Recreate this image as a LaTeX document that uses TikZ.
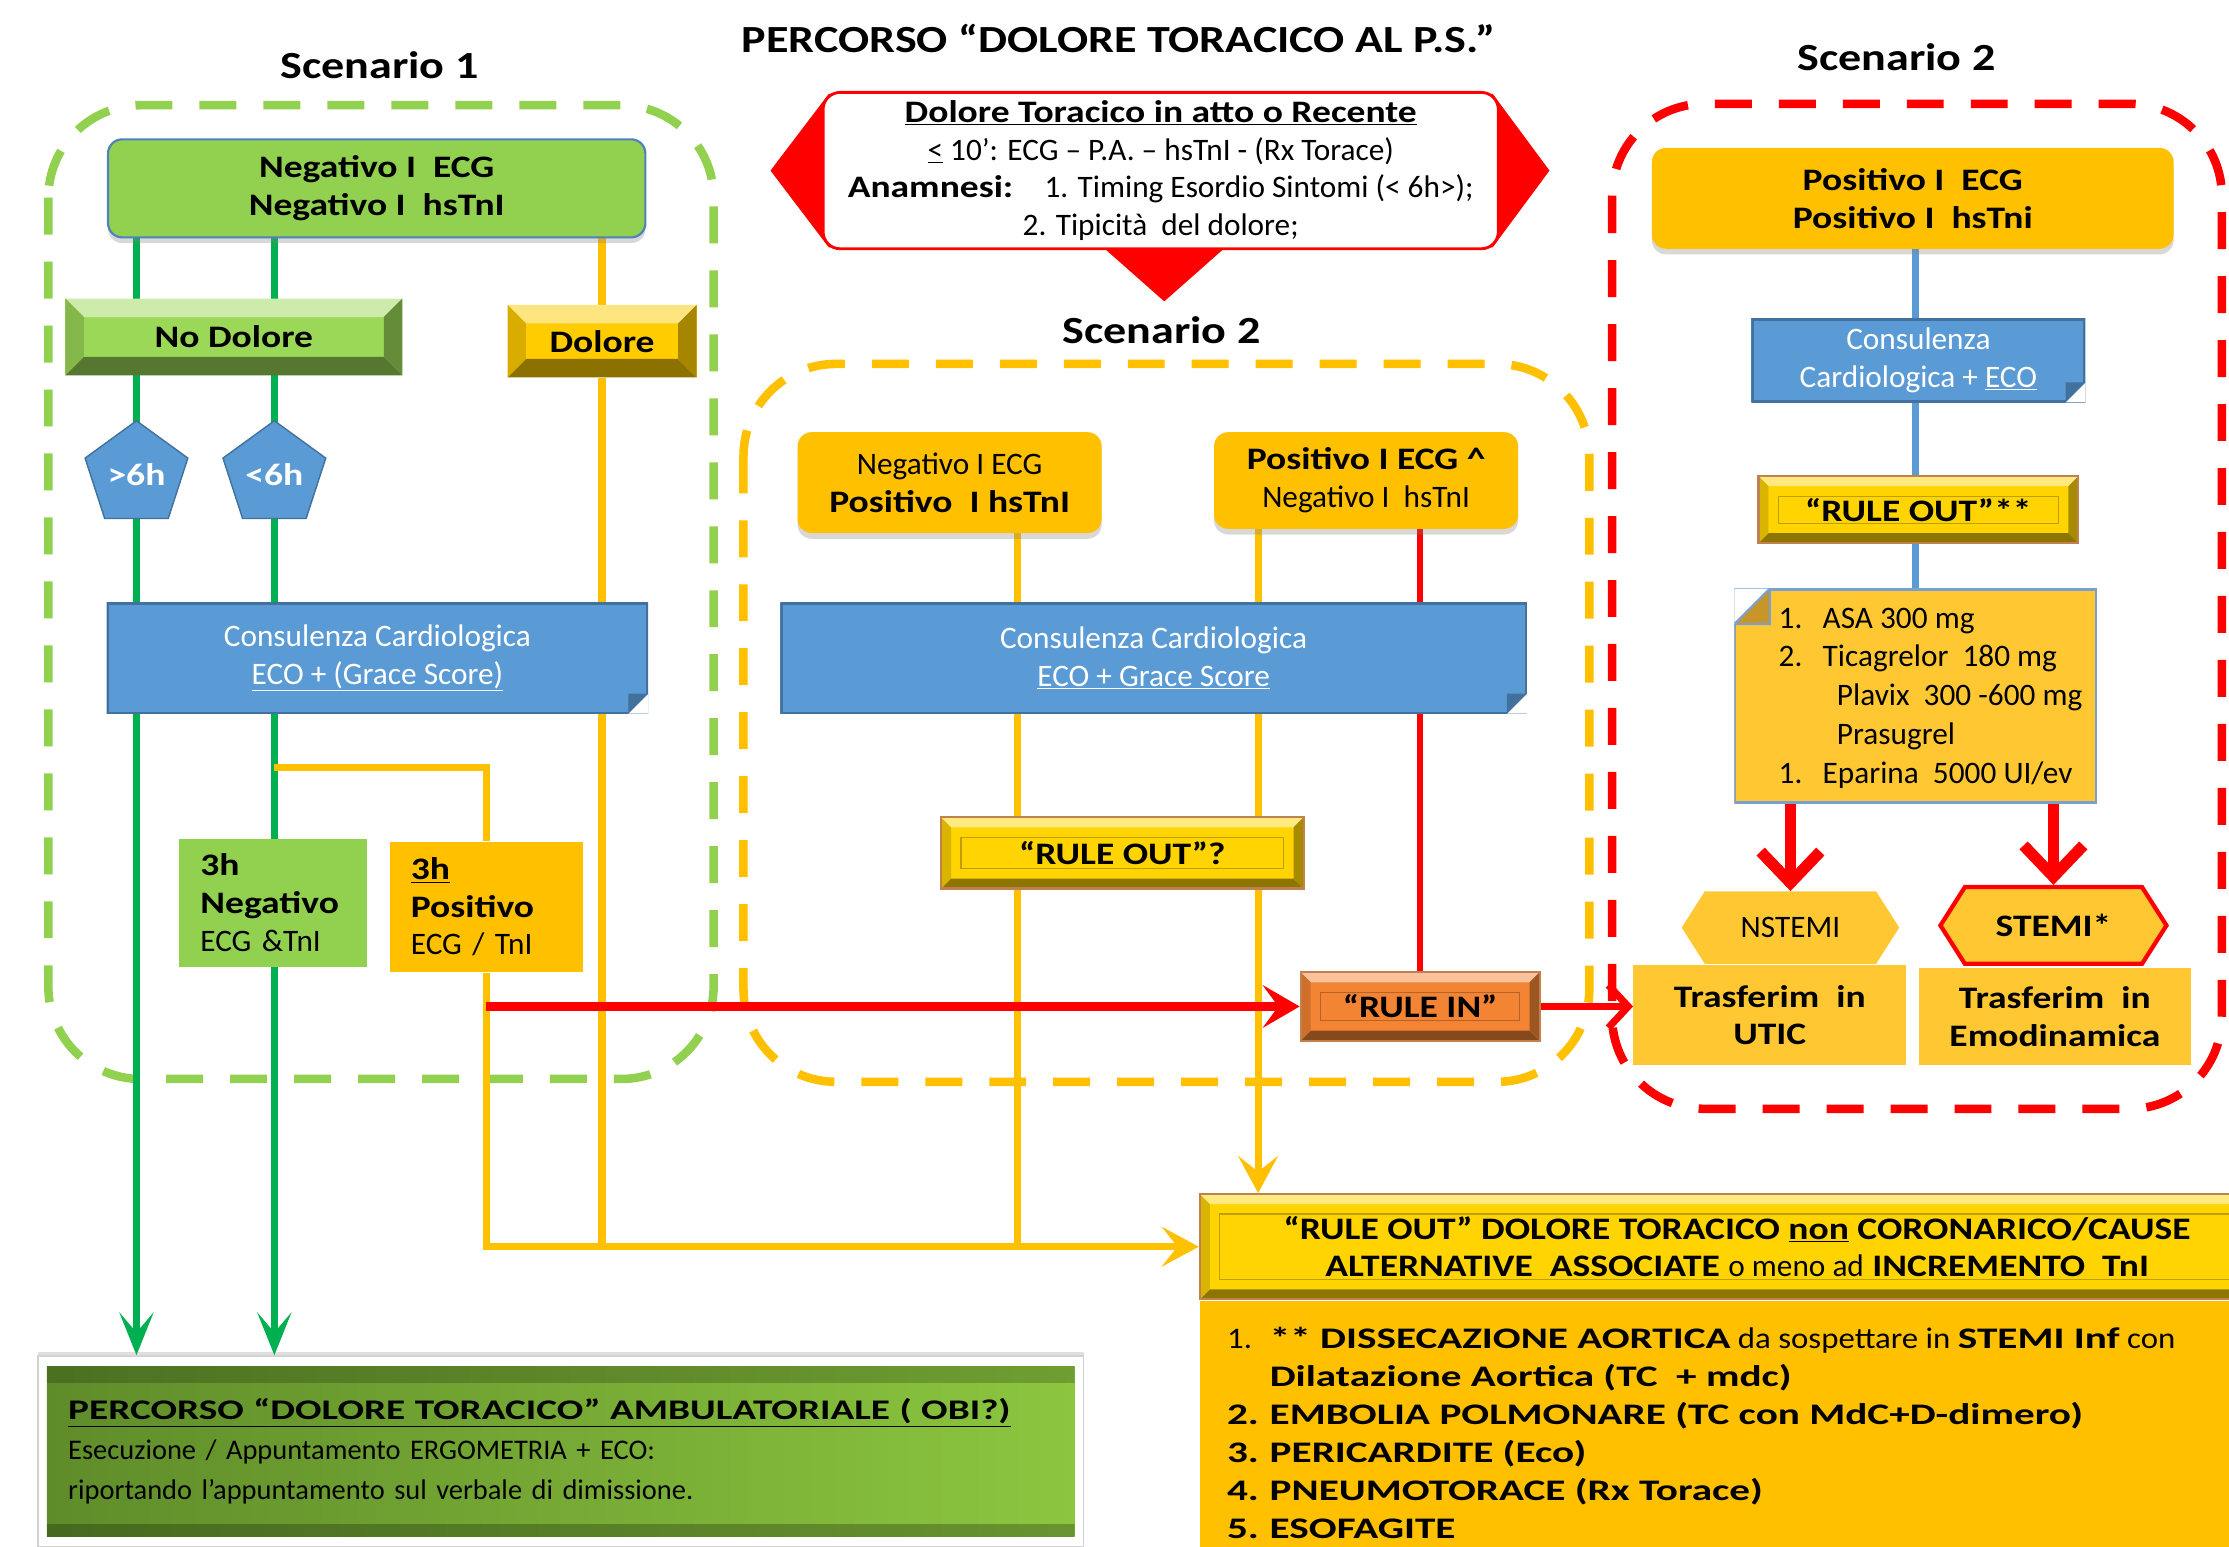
\documentclass[tikz,border=0pt]{standalone}
\usepackage{fontspec}
\setmainfont{Carlito}[BoldFeatures={FakeStretch=1.2}]
\newfontfamily\wide{Carlito}[FakeStretch=1.1, BoldFeatures={FakeStretch=1.38}]
\usepackage{tikz}
\usetikzlibrary{arrows.meta,backgrounds,calc,shapes.geometric,shapes.symbols,shadows,fit}

\definecolor{grn}{RGB}{146,208,80}
\definecolor{nodol}{RGB}{155,216,88}
\definecolor{dgrn}{RGB}{0,176,80}
\definecolor{yel}{RGB}{255,192,0}
\definecolor{lyel}{RGB}{255,200,50}
\definecolor{gold}{RGB}{255,204,0}
\definecolor{btngold}{RGB}{255,212,0}
\definecolor{orng}{RGB}{242,132,52}
\definecolor{btnedge}{RGB}{192,128,80}
\definecolor{blu}{RGB}{91,155,213}
\definecolor{bluedark}{RGB}{65,113,156}
\definecolor{bordblue}{RGB}{79,129,189}
\definecolor{listedge}{RGB}{120,160,210}
\definecolor{listfold}{RGB}{200,150,40}
\definecolor{obil}{RGB}{95,140,42}
\definecolor{obir}{RGB}{140,198,63}

\newcommand\bevelfaces[2]{%
  \path (path picture bounding box.north west) coordinate (qnw)
        (path picture bounding box.north east) coordinate (qne)
        (path picture bounding box.south west) coordinate (qsw)
        (path picture bounding box.south east) coordinate (qse);
  \fill[#1!50!white] (qnw) -- (qne) -- ([xshift=-#2,yshift=-#2]qne) -- ([xshift=#2,yshift=-#2]qnw) -- cycle;
  \fill[#1!55!black] (qsw) -- (qse) -- ([xshift=-#2,yshift=#2]qse) -- ([xshift=#2,yshift=#2]qsw) -- cycle;
  \fill[#1!85!black] (qnw) -- ([xshift=#2,yshift=-#2]qnw) -- ([xshift=#2,yshift=#2]qsw) -- (qsw) -- cycle;
  \fill[#1!65!black] (qne) -- ([xshift=-#2,yshift=-#2]qne) -- ([xshift=-#2,yshift=#2]qse) -- (qse) -- cycle;
}
\newcommand\foldse{%
  \path (path picture bounding box.north west) coordinate (qnw)
        (path picture bounding box.south east) coordinate (qse);
  \draw[bluedark, line width=3pt] (qnw) rectangle (qse);
  \fill[white] (qse) -- ([yshift=14pt]qse) -- ([xshift=-14pt]qse) -- cycle;
  \fill[bluedark] ([yshift=14pt]qse) -- ([xshift=-14pt]qse) -- ([xshift=-14pt,yshift=14pt]qse) -- cycle;
}
\newcommand\foldnw{%
  \path (path picture bounding box.north west) coordinate (qnw)
        (path picture bounding box.south east) coordinate (qse);
  \draw[listedge, line width=3pt] (qnw) rectangle (qse);
  \fill[white] (qnw) -- ([xshift=25pt]qnw) -- ([yshift=-25pt]qnw) -- cycle;
  \filldraw[fill=listfold, draw=listedge, line width=1.5pt] ([xshift=25pt]qnw) -- ([yshift=-25pt]qnw) -- ([xshift=25pt,yshift=-25pt]qnw) -- cycle;
}
\newcommand\obibands{%
  \path (path picture bounding box.north west) coordinate (qnw)
        (path picture bounding box.south east) coordinate (qse);
  \fill[black, opacity=.2] (qnw) rectangle ([yshift=-12pt]qnw -| qse);
  \fill[black, opacity=.25] (qse) rectangle ([yshift=9pt]qse -| qnw);
}

\tikzset{
  txt/.style={font=\fontsize{22}{26.5}\selectfont},
  txtb/.style={font=\fontsize{22}{26.5}\selectfont\bfseries},
  ttl/.style={font=\fontsize{27}{32}\selectfont\bfseries},
  rbox/.style={rounded corners=10pt, fill=#1, align=center, txt,
    drop shadow={opacity=.3, shadow xshift=0pt, shadow yshift=-4pt}},
  bevelbox/.style 2 args={fill=#1, path picture={\bevelfaces{#1}{#2}}, align=center, txtb},
  button/.style={fill=#1, draw=btnedge, line width=1.5pt, align=center, txtb,
    path picture={\bevelfaces{#1}{7pt}
      \draw[#1!75!black, line width=.8pt] ([xshift=14pt,yshift=-14pt]qnw) rectangle ([xshift=-14pt,yshift=14pt]qse);}},
  note/.style={fill=blu, text=white, align=center, txt, path picture={\foldse}},
  listbox/.style={fill=lyel, path picture={\foldnw}},
  penta/.style={regular polygon, regular polygon sides=5, minimum size=76pt, inner sep=0pt,
    fill=blu, draw=bluedark, line width=1pt, text=white, txtb},
  hexa/.style={signal, signal to=west and east, signal pointer angle=115, inner sep=2pt, txt},
  warn/.style={rounded corners=12pt, fill=white, draw=red, line width=2pt, align=center,
    font=\fontsize{22}{26.5}\selectfont},
  obibox/.style={left color=obil, right color=obir, path picture={\obibands}},
  dashbox/.style={draw=#1, line width=6pt, dash pattern=on 26pt off 19pt, rounded corners=65pt},
  gline/.style={dgrn, line width=5pt, -{Stealth[length=30pt,width=24pt,inset=14pt]}},
  yline/.style={yel, line width=5pt},
  yarrow/.style={yline, -{Stealth[length=26pt,width=28pt,inset=11pt]}},
  bline/.style={blu, line width=5pt},
  rline/.style={red, line width=4pt},
  rarrow/.style={red, line width=6pt, -{Stealth[length=26pt,width=30pt,inset=11pt]}},
  rbarb/.style={red, line width=5pt, -{Straight Barb[length=14pt,width=30pt]}},
  bigarrow/.style={red, line width=8pt, -{Straight Barb[length=22pt,width=42pt]}},
}

\begin{document}
\begin{tikzpicture}[x=1pt,y=-1pt]
\useasboundingbox (0,0) rectangle (1568,1088);
\clip (0,0) rectangle (1568,1088);

% titles
\node[ttl] (title) at (787,27) {PERCORSO “DOLORE TORACICO AL P.S.”};
\node[ttl] (sc1) at (267,46) {Scenario 1};
\node[ttl] (sc2r) at (1334,40) {Scenario 2};
\node[ttl] (sc2m) at (817,232) {Scenario 2};

% top centre
\fill[red] (542,120) -- (583,66) -- (1050,66) -- (1090,120) -- (1050,174) -- (862,174)
  -- (819,212) -- (776,174) -- (583,174) -- cycle;
\node[warn, minimum width=475pt, minimum height=110pt] (warn) at (816.5,120)
  {\textbf{\underline{Dolore Toracico in atto o Recente}}\\
   \underline{<} 10’: ECG – P.A. – hsTnI - (Rx Torace)\\
   \textbf{Anamnesi:}\quad 1. Timing Esordio Sintomi (< 6h>);\\
   2. Tipicità\ \ del dolore;};

% scenario 1
\node[rbox=grn, draw=bordblue, line width=1.5pt, minimum width=378pt, minimum height=69pt, txtb]
  (neg) at (265,132.5) {Negativo I\ \ ECG\\Negativo I\ \ hsTnI};
\node[bevelbox={nodol}{13pt}, minimum width=237pt, minimum height=54pt] (nodol) at (164.5,237) {No Dolore};
\node[bevelbox={gold}{13pt}, minimum width=133pt, minimum height=51pt] (dol) at (423.5,240) {Dolore};
\node[penta] (gt6) at (96,334) {>6h};
\node[penta] (lt6) at (193,334) {<6h};
\node[note, minimum width=381pt, minimum height=78pt] (cons1) at (265.5,463)
  {Consulenza Cardiologica\\\underline{ECO + (Grace Score)}};
\node[fill=grn, minimum height=90pt, text width=102pt, inner xsep=15pt, align=left, txt]
  (neg3h) at (192,635) {\textbf{3h}\\\textbf{Negativo}\\ECG \&TnI};
\node[fill=yel, minimum height=92pt, text width=106pt, inner xsep=15pt, align=left, txt]
  (pos3h) at (342,638) {\textbf{\underline{3h}}\\\textbf{Positivo}\\ECG / TnI};

% scenario 2 (middle)
\node[rbox=yel, minimum width=214pt, minimum height=71pt] (n2) at (668,339.5)
  {Negativo I ECG\\\textbf{Positivo\ \ I hsTnI}};
\node[rbox=yel, minimum width=214pt, minimum height=68pt] (p2) at (961,338)
  {\textbf{Positivo I ECG \textasciicircum}\\Negativo I\ \ hsTnI};
\node[note, minimum width=525pt, minimum height=78pt] (cons2) at (811.5,463)
  {Consulenza Cardiologica\\\underline{ECO + Grace Score}};
\node[button=btngold, minimum width=255pt, minimum height=50pt] (rom) at (789.5,600) {“RULE OUT”?};
\node[button=orng, minimum width=168pt, minimum height=48pt] (rin) at (999,708) {“RULE IN”};

% scenario 2 (right)
\node[rbox=yel, minimum width=367pt, minimum height=71pt, txtb] (pos) at (1345.5,139.5)
  {Positivo I\ \ ECG\\Positivo I\ \ hsTni};
\node[note, minimum width=235pt, minimum height=59pt] (cons3) at (1349.5,253.5)
  {Consulenza\\Cardiologica + \underline{ECO}};
\node[button=btngold, minimum width=225pt, minimum height=47pt] (ror) at (1349.5,358.5) {“RULE OUT”**};
\node[listbox, minimum width=255pt, minimum height=151pt] (list) at (1347.5,489.5) {};
\node[anchor=west, align=left, inner sep=0pt, font=\fontsize{22}{27.3}\selectfont] (listtxt) at (1251,491)
  {\makebox[31pt][l]{1.}ASA 300 mg\\
   \makebox[31pt][l]{2.}Ticagrelor\ \ 180 mg\\
   \hspace*{41pt}Plavix\ \ 300 -600 mg\\
   \hspace*{41pt}Prasugrel\\
   \makebox[31pt][l]{1.}Eparina\ \ 5000 UI/ev};
\node[hexa, fill=lyel, minimum width=153pt, minimum height=51pt] (nst) at (1259.5,652.5) {NSTEMI};
\node[hexa, fill=lyel, draw=red, line width=3pt, minimum width=159pt, minimum height=54pt, txtb]
  (stemi) at (1444.5,651) {STEMI*};
\node[fill=lyel, minimum width=192pt, minimum height=70pt, align=center, txtb] (utic) at (1245,714)
  {Trasferim\ \ in\\UTIC};
\node[fill=lyel, minimum width=191pt, minimum height=68pt, align=center, txtb] (emo) at (1445.5,715)
  {Trasferim\ \ in\\Emodinamica};

% rule out (bottom)
\node[button=btngold, minimum width=756pt, minimum height=74pt] (rob) at (1222,877)
  {“RULE OUT” DOLORE TORACICO \underline{non} CORONARICO/CAUSE\\
   ALTERNATIVE\ \ ASSOCIATE \textmd{o meno ad} INCREMENTO\ \ TnI};
\node[fill=yel, minimum width=756pt, minimum height=186pt, anchor=north, inner sep=0pt] (robody) at (rob.south) {};
\node[anchor=west, align=left, inner sep=0pt, font=\fontsize{21}{26.7}\selectfont\wide] (robtxt) at (863,1008)
  {\makebox[30pt][l]{1.}\textbf{** DISSECAZIONE AORTICA} da sospettare in \textbf{STEMI Inf} con\\
   \hspace*{30pt}\textbf{Dilatazione Aortica (TC\ \ + mdc)}\\
   \makebox[30pt][l]{\textbf{2.}}\textbf{EMBOLIA POLMONARE (TC con MdC+D-dimero)}\\
   \makebox[30pt][l]{\textbf{3.}}\textbf{PERICARDITE (Eco)}\\
   \makebox[30pt][l]{\textbf{4.}}\textbf{PNEUMOTORACE (Rx Torace)}\\
   \makebox[30pt][l]{\textbf{5.}}\textbf{ESOFAGITE}};

% ambulatoriale
\node[obibox, text width=693pt, inner xsep=15pt, minimum height=120pt, align=left,
  font=\fontsize{20}{28}\selectfont] (obi) at (394.5,1021)
  {{\wide\bfseries\underline{PERCORSO “DOLORE TORACICO” AMBULATORIALE ( OBI?)}}\\
   Esecuzione / Appuntamento ERGOMETRIA + ECO:\\
   riportando l’appuntamento sul verbale di dimissione.};

\begin{scope}[on background layer]
\fill[white] (0,0) rectangle (1568,1088);
\draw[dashbox=grn] (34,74) rectangle (502,759);
\draw[dashbox=yel] (523,256) rectangle (1118,761);
\draw[dashbox=red] (1134,73) rectangle (1563,780);
\node[fit=(obi), inner xsep=6pt, inner ysep=7pt, fill=white, draw=gray!35, line width=1pt,
  drop shadow={opacity=.25, shadow xshift=0pt, shadow yshift=3pt}] (obif) {};
\end{scope}

% connectors
\coordinate (xa) at (716,0);
\coordinate (xb) at (885,0);
\begin{scope}[on background layer]
\draw[gline] (gt6 |- neg.south) -- (gt6 |- obif.north);
\draw[gline] (lt6 |- neg.south) -- (lt6 |- obif.north);
\draw[yline] (dol |- neg.south) -- (dol.north);
\draw[yline] (dol.south) -- (dol |- rob.west);
\draw[yline] (lt6 |- 0,540) -| (pos3h.north);
\draw[yarrow] (pos3h.south) |- (rob.west);
\draw[yline] (xa |- n2.south) -- (xa |- rob.west);
\draw[yarrow] (xb |- p2.south) -- (xb |- rob.north);
\draw[rline] (rin |- p2.south) -- (rin.north);
\draw[rarrow] (pos3h |- rin.west) -- (rin.west);
\draw[rbarb] (rin.east) -- (rin.east -| utic.west);
\draw[bline] (list |- pos.south) -- (list.north);
\draw[bigarrow] (list.south -| nst) -- (nst.north);
\draw[bigarrow] (list.south -| stemi) -- (stemi.north);
\end{scope}
\end{tikzpicture}
\end{document}
